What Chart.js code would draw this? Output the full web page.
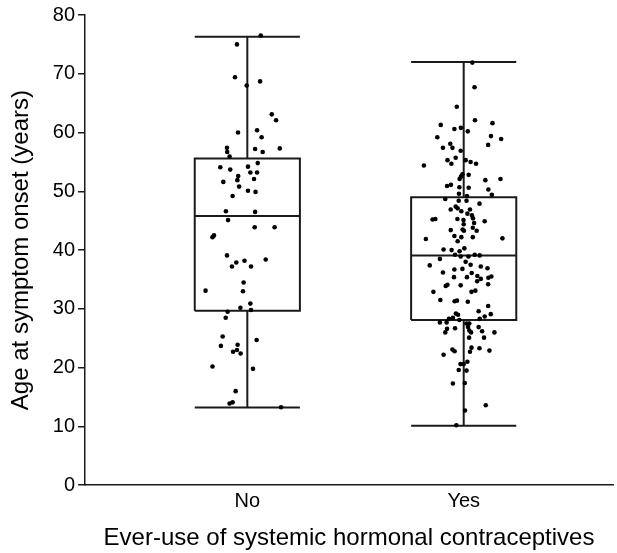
<!DOCTYPE html>
<html>
<head>
<meta charset="utf-8">
<script src="https://cdn.jsdelivr.net/npm/chart.js@4/dist/chart.umd.min.js"></script>
<style>
  html, body { margin: 0; padding: 0; background: #fff; }
  #wrap { width: 617px; height: 553px; }
</style>
</head>
<body>
<div id="wrap"><canvas id="chart"></canvas></div>
<script>
  // categories and box statistics
  const categories = ["No", "Yes"];
  const q1 = [29.7, 28.1];
  const median = [45.8, 39.1];
  const q3 = [55.6, 49.0];
  const whiskerLow = [13.2, 10.1];
  const whiskerHigh = [76.3, 72.0];

  // individual observations: age and horizontal jitter (category units)
  const noAges = [76.5, 75.0, 69.4, 68.7, 68.0, 63.1, 62.1, 60.0, 60.4, 59.2, 57.4, 57.2, 57.3, 56.7, 56.7,
    55.9, 54.8, 54.1, 54.2, 53.7, 53.2, 53.2, 52.6, 52.1, 51.6, 51.9, 50.8, 50.1, 49.9, 49.2, 46.6, 46.5,
    45.1, 43.9, 43.9, 42.2, 42.5, 39.1, 38.2, 38.4, 37.9, 37.2, 37.2, 34.5, 33.1, 33.0, 30.9, 30.2, 29.8,
    29.5, 28.5, 25.3, 24.7, 23.7, 23.9, 22.7, 23.0, 22.4, 20.2, 19.8, 16.0, 13.9, 14.1, 13.25];
  const noJitter = [0.062, -0.048, -0.057, 0.059, -0.003, 0.113, 0.133, -0.043, 0.045, 0.066, -0.094, 0.036,
    0.150, -0.093, 0.071, -0.082, 0.048, -0.125, 0.003, -0.079, 0.014, 0.045, -0.042, 0.031, -0.111, -0.046,
    -0.038, 0.003, 0.038, -0.068, -0.099, 0.036, -0.089, 0.034, 0.126, -0.161, -0.154, -0.094, -0.013, 0.085,
    -0.051, -0.071, 0.017, -0.017, -0.193, -0.020, 0.014, -0.032, 0.017, -0.091, -0.100, -0.114, 0.043,
    -0.122, -0.045, -0.066, -0.048, -0.031, -0.161, 0.026, -0.054, -0.082, -0.068, 0.156];

  const yesAges = [71.9, 67.7, 64.4, 62.1, 61.3, 61.6, 60.6, 60.8, 60.2, 59.2, 59.4, 58.9, 58.1, 57.4, 57.4,
    57.9, 56.9, 55.7, 55.3, 54.7, 55.3, 55.0, 54.7, 54.4, 52.9, 52.8, 52.5, 52.1, 51.9, 52.1, 50.9, 51.1,
    50.7, 50.6, 50.3, 49.6, 49.4, 49.2, 48.7, 48.4, 48.4, 47.9, 47.4, 47.1, 46.9, 46.9, 46.6, 46.2, 45.9,
    45.2, 45.3, 45.3, 45.1, 45.4, 44.6, 44.9, 44.4, 43.8, 43.5, 43.4, 43.3, 43.3, 42.4, 42.2, 42.2, 41.9,
    42.0, 41.5, 40.3, 40.1, 40.0, 39.8, 39.2, 38.9, 38.9, 39.2, 39.1, 38.5, 38.0, 37.5, 37.4, 37.2, 36.9,
    36.7, 36.8, 36.2, 36.1, 35.4, 35.4, 35.6, 35.3, 35.1, 35.5, 34.2, 33.9, 34.1, 34.0, 34.7, 32.9, 32.9,
    33.1, 31.5, 31.3, 31.4, 31.2, 30.5, 29.6, 29.1, 29.2, 29.0, 28.7, 28.3, 28.5, 28.3, 27.7, 27.7, 28.1,
    27.5, 27.5, 26.7, 26.6, 26.9, 26.9, 26.3, 26.0, 26.0, 26.2, 26.0, 25.1, 25.1, 23.1, 22.8, 23.4, 22.7,
    23.3, 22.9, 22.2, 21.0, 20.6, 20.6, 19.6, 19.5, 17.3, 17.4, 13.6, 12.7, 10.2];
  const yesJitter = [0.040, 0.050, -0.032, 0.052, -0.106, 0.133, -0.043, -0.013, 0.019, -0.122, 0.126, 0.173,
    -0.062, -0.096, -0.052, 0.113, -0.014, -0.037, -0.075, -0.057, 0.009, 0.032, 0.057, -0.184, -0.006, 0.023,
    -0.013, -0.019, 0.100, 0.170, -0.077, -0.059, -0.020, 0.023, 0.114, -0.022, 0.130, 0.015, -0.085, -0.023,
    0.013, 0.073, -0.037, -0.028, -0.060, 0.029, -0.011, 0.017, 0.038, -0.144, -0.131, -0.029, -0.001, 0.043,
    0.048, 0.097, 0.000, 0.042, -0.005, -0.060, 0.060, 0.001, -0.043, -0.011, 0.042, -0.175, 0.179, -0.028,
    0.003, -0.093, -0.056, -0.019, -0.040, -0.014, 0.022, 0.051, 0.074, -0.110, 0.009, 0.032, -0.157, 0.079,
    0.110, -0.043, -0.006, -0.096, 0.037, -0.045, 0.015, 0.063, 0.114, 0.079, 0.128, 0.113, -0.083, -0.075,
    -0.014, 0.062, -0.140, 0.036, 0.054, -0.108, -0.042, -0.031, 0.019, 0.113, 0.069, 0.125, -0.036, -0.026,
    0.097, -0.068, -0.050, 0.074, -0.110, -0.079, -0.020, 0.013, 0.026, -0.040, -0.077, 0.020, 0.069, 0.026,
    -0.085, 0.034, 0.085, 0.142, 0.025, 0.094, -0.052, -0.042, 0.036, 0.029, 0.073, 0.119, -0.093, 0.017,
    -0.015, 0.000, -0.023, 0.013, -0.050, 0.005, 0.102, 0.006, -0.034];

  const FONT = "'Liberation Sans', Arial, sans-serif";
  const HALF = 0.243; // half box width, category units
  const INK = "#1a1a1a";

  function pts(center, ages, jitter) {
    return ages.map((a, i) => ({ x: center + jitter[i], y: a }));
  }

  function lineSet(data) {
    return {
      type: "scatter",
      data,
      showLine: true,
      borderColor: INK,
      borderWidth: 2,
      pointRadius: 0,
      fill: false,
      order: 1,
    };
  }

  const datasets = [
    {
      type: "scatter",
      data: pts(1, noAges, noJitter),
      backgroundColor: "#000",
      borderWidth: 0,
      pointRadius: 2.3,
      order: 0,
    },
    {
      type: "scatter",
      data: pts(2, yesAges, yesJitter),
      backgroundColor: "#000",
      borderWidth: 0,
      pointRadius: 2.3,
      order: 0,
    },
  ];

  categories.forEach((c, i) => {
    const x = i + 1;
    datasets.push(lineSet([
      { x: x - HALF, y: q1[i] }, { x: x + HALF, y: q1[i] },
      { x: x + HALF, y: q3[i] }, { x: x - HALF, y: q3[i] }, { x: x - HALF, y: q1[i] },
    ]));
    datasets.push(lineSet([{ x: x - HALF, y: median[i] }, { x: x + HALF, y: median[i] }]));
    datasets.push(lineSet([{ x, y: q3[i] }, { x, y: whiskerHigh[i] }]));
    datasets.push(lineSet([{ x, y: whiskerLow[i] }, { x, y: q1[i] }]));
    datasets.push(lineSet([{ x: x - HALF, y: whiskerHigh[i] }, { x: x + HALF, y: whiskerHigh[i] }]));
    datasets.push(lineSet([{ x: x - HALF, y: whiskerLow[i] }, { x: x + HALF, y: whiskerLow[i] }]));
  });

  new Chart(document.getElementById("chart"), {
    type: "scatter",
    data: { datasets },
    options: {
      responsive: true,
      maintainAspectRatio: false,
      animation: false,
      layout: { padding: { top: 9, right: 0, bottom: 0, left: 7 } },
      plugins: { legend: { display: false }, tooltip: { enabled: false } },
      scales: {
        x: {
          type: "linear",
          min: 0.25,
          max: 2.69,
          afterBuildTicks: (s) => { s.ticks = [{ value: 1 }, { value: 2 }]; },
          ticks: {
            callback: (v) => categories[v - 1],
            color: "#000",
            font: { family: FONT, size: 20 },
            padding: 4,
          },
          grid: { display: false, drawTicks: false, tickLength: 0 },
          border: { display: true, color: INK, width: 1.5 },
          title: {
            display: true,
            text: "Ever-use of systemic hormonal contraceptives",
            color: "#000",
            font: { family: FONT, size: 24 },
            padding: { top: 7, bottom: 0 },
          },
        },
        y: {
          min: 0,
          max: 80,
          ticks: {
            stepSize: 10,
            color: "#000",
            font: { family: FONT, size: 20 },
            padding: 3,
          },
          grid: { drawOnChartArea: false, drawTicks: true, tickLength: 7, color: INK, lineWidth: 1.5 },
          border: { display: true, color: INK, width: 1.5 },
          title: {
            display: true,
            text: "Age at symptom onset (years)",
            color: "#000",
            font: { family: FONT, size: 24 },
            padding: { top: 0, bottom: 14 },
          },
        },
      },
    },
  });
</script>
</body>
</html>
